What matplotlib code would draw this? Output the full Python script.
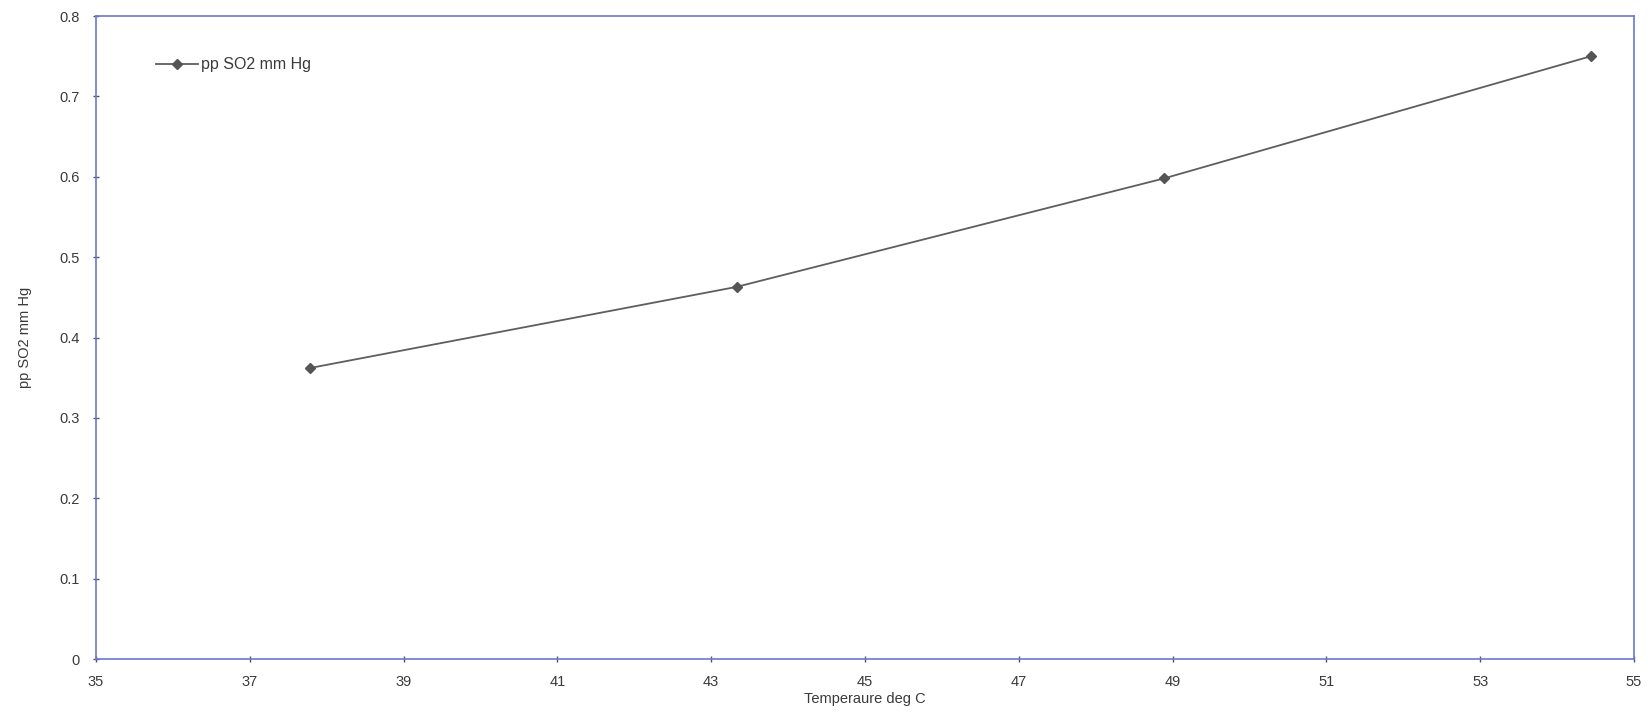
import matplotlib.pyplot as plt

# Vapour pressure readings
temps = [37.78, 43.33, 48.89, 54.44]
pp_so2 = [0.362, 0.463, 0.598, 0.750]
x_ticks = list(range(35, 56, 2))
y_ticks = [0, 0.1, 0.2, 0.3, 0.4, 0.5, 0.6, 0.7, 0.8]

plt.rcParams["font.family"] = ["Liberation Sans", "DejaVu Sans"]
text_col = "#3a3a3a"
spine_col = "#6a78d0"

fig = plt.figure(figsize=(16.49, 7.12), dpi=100)
ax = fig.add_axes([0.0582, 0.0744, 0.9327, 0.9031])

ax.plot(temps, pp_so2, color="#5e5e5e", linewidth=1.3, marker="D",
        markersize=5, markerfacecolor="#555555", markeredgecolor="#555555",
        label="pp SO2 mm Hg")

ax.set_xlim(35, 55)
ax.set_ylim(0, 0.8)
ax.set_xticks(x_ticks)
ax.set_yticks(y_ticks)
ax.set_yticklabels(["0" if v == 0 else f"{v:.1f}" for v in y_ticks])

for s in ax.spines.values():
    s.set_color(spine_col)
    s.set_linewidth(1.2)

ax.tick_params(axis="both", colors="#555555", labelcolor=text_col,
               labelsize=10.5, length=5, width=1, direction="inout")
ax.tick_params(axis="x", pad=9)
ax.tick_params(axis="y", pad=9)

ax.set_xlabel("Temperaure deg C", fontsize=10.5, color=text_col, labelpad=2)
ax.set_ylabel("pp SO2 mm Hg", fontsize=10.5, color=text_col, labelpad=20)

leg = ax.legend(loc="upper left", bbox_to_anchor=(0.030, 0.958), frameon=False,
                fontsize=11.5, handlelength=2.6, handletextpad=0.2)
for t in leg.get_texts():
    t.set_color(text_col)

fig.savefig("out.png", dpi=100)
